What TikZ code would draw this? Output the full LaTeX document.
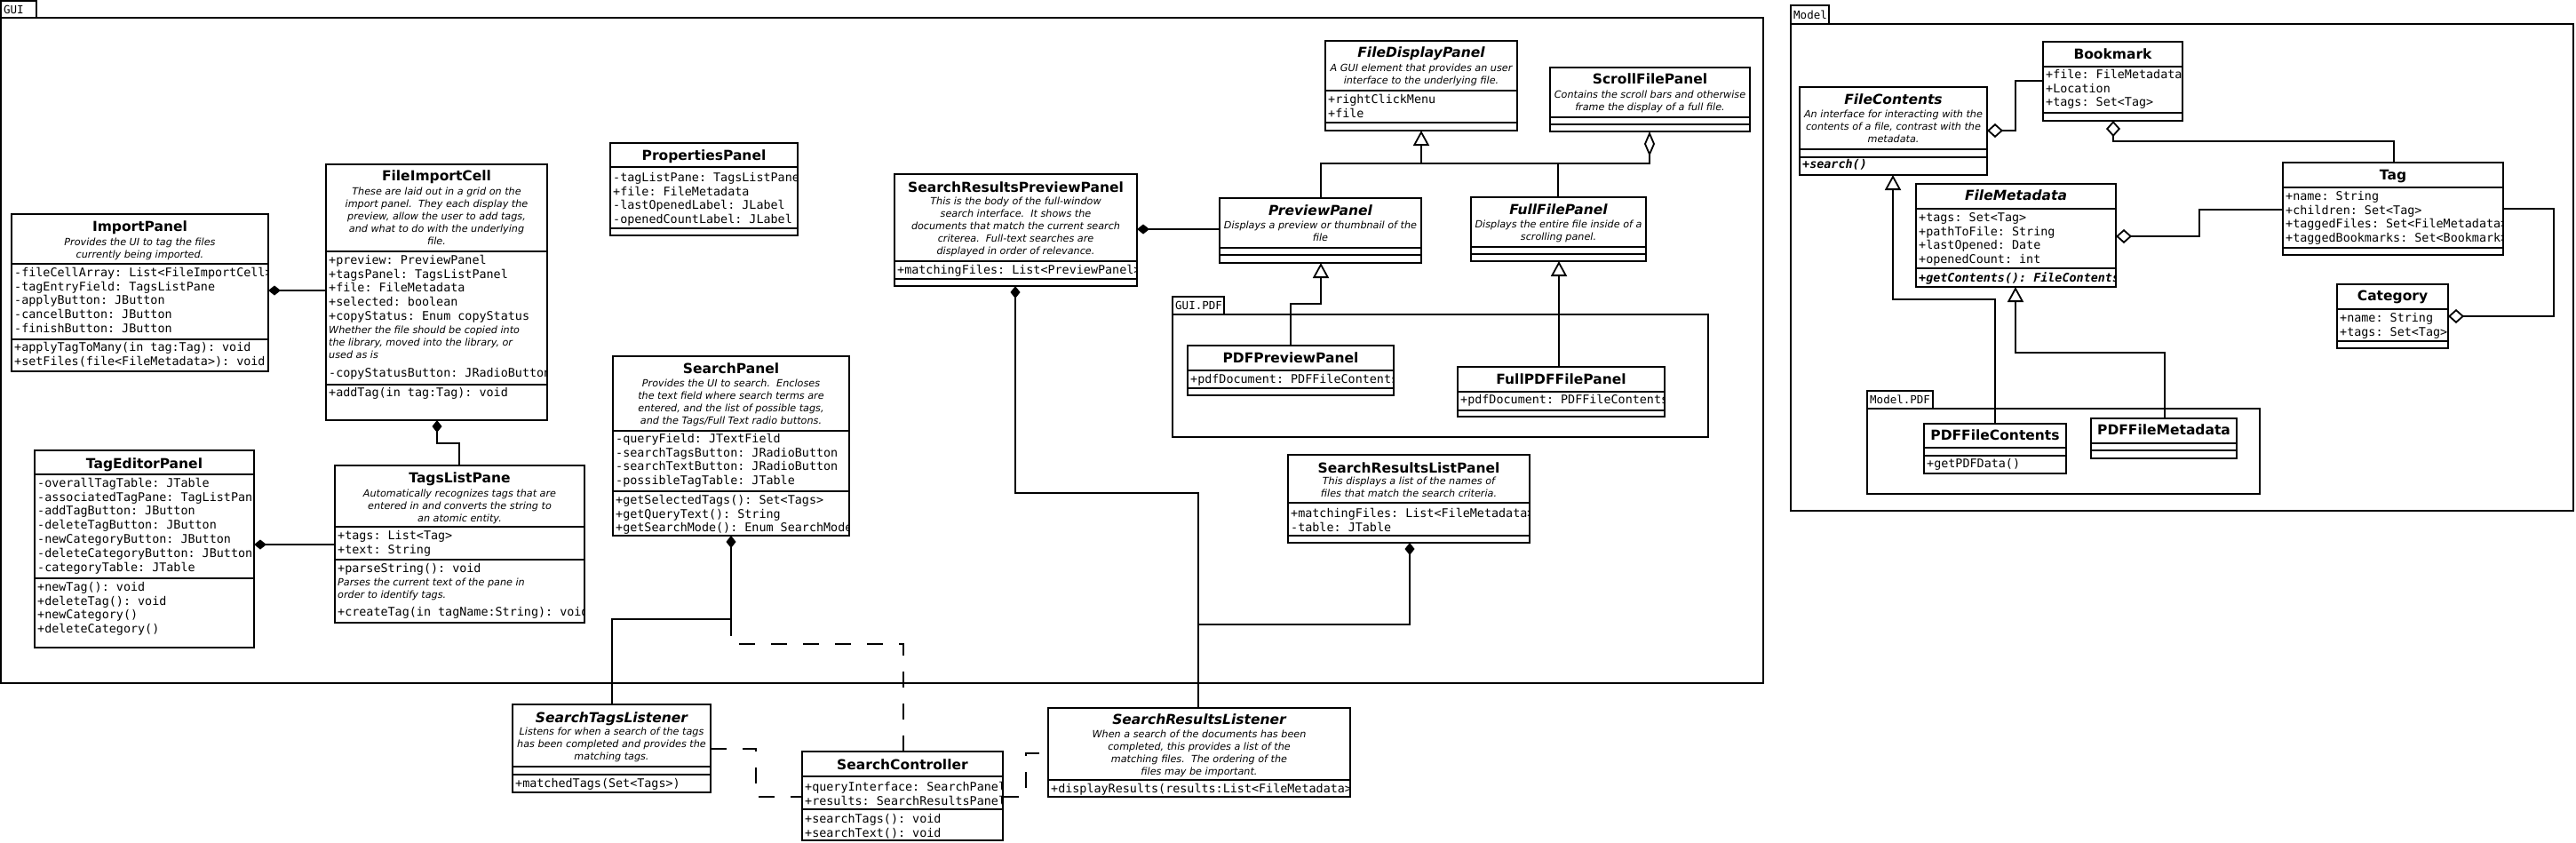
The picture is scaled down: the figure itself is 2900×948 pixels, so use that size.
\documentclass[tikz,border=0pt]{standalone}
\usepackage{fontspec}
\setmainfont{DejaVu Sans}
\setmonofont{DejaVu Sans Mono}
\usetikzlibrary{arrows.meta}
\newcommand\ttlf{\fontsize{15.5}{18}\selectfont\bfseries}
\newcommand\ttlif{\fontsize{15.5}{18}\selectfont\bfseries\itshape}
\newcommand\dscf{\fontsize{11.2}{14}\selectfont\itshape}
\newcommand\attf{\ttfamily\fontsize{13.4}{15.8}\selectfont}
\newcommand\pkgf{\ttfamily\fontsize{12.5}{15}\selectfont}
\tikzset{
  clsbox/.style={draw, line width=1.8pt, fill=white, rectangle, inner sep=0pt, outer sep=0pt, anchor=north west},
  pkg/.style={draw, line width=1.8pt, rectangle, inner sep=0pt, outer sep=0pt, anchor=north west},
  pkgl/.style={font=\pkgf, anchor=west, inner sep=0pt, xshift=3pt},
  divl/.style={line width=1.8pt},
  ttl/.style={font=\ttlf, anchor=base, inner sep=0pt},
  dsc/.style={font=\dscf, align=center, anchor=north, inner sep=0pt},
  dscl/.style={font=\dscf, align=left, anchor=north west, inner sep=0pt, xshift=3pt},
  att/.style={font=\attf, align=left, anchor=north west, inner sep=0pt, xshift=3pt},
  conn/.style={line width=1.8pt},
  comp/.style={conn, {Diamond[length=14pt,width=11pt]}-},
  aggr/.style={conn, {Diamond[length=18pt,width=16pt,fill=white]}-},
  aggrn/.style={conn, {Diamond[length=28pt,width=12pt,fill=white]}-},
  gen/.style={conn, -{Triangle[length=17pt,width=18pt,fill=white]}},
  dep/.style={conn, dash pattern=on 18pt off 18pt},
}
\newcommand\Cls[7]{%
  \node[clsbox, minimum width={#4-#2}, minimum height={#5-#3}] (#1) at (#2,#3) {};
  \draw[divl] (#1.west |- 0,#6) -- (#1.east |- 0,#6);
  \draw[divl] (#1.west |- 0,#7) -- (#1.east |- 0,#7);}
\newcommand\Ttl[3]{\node[ttl] (#1-t) at (#1.north |- 0,{#2+5.5}) {#3};}
\newcommand\TtlI[3]{\node[ttl, font=\ttlif] (#1-t) at (#1.north |- 0,{#2+5.5}) {#3};}
\newcommand\Dsc[3]{\node[dsc] (#1-d) at (#1.north |- 0,{#2-6.3}) {\strut #3};}
\newcommand\Att[4]{\begin{scope}\clip (#1.north west) rectangle (#1.south east);
  \node[att] (#1-#2) at (#1.west |- 0,{#3-7}) {\strut #4};\end{scope}}
\newcommand\Cmt[4]{\node[dscl] (#1-#2) at (#1.west |- 0,{#3-6.3}) {\strut #4};}
\begin{document}
\begin{tikzpicture}[x=1pt,y=-1pt]
\useasboundingbox (0,0) rectangle (2900,948);
\fill[white] (0,0) rectangle (2900,948);

% ---------------- packages
\node[pkg, minimum width=40, minimum height=19] (gui-tab) at (1,1) {};
\node[pkgl] (gui-l) at (gui-tab.west) {GUI};
\node[pkg, minimum width=1984, minimum height=749] (gui) at (1,20) {};

\node[pkg, minimum width=58, minimum height=20] (guipdf-tab) at (1320,334) {};
\node[pkgl] (guipdf-l) at (guipdf-tab.west) {GUI.PDF};
\node[pkg, minimum width=603, minimum height=138] (guipdf) at (1320,354) {};

\node[pkg, minimum width=43, minimum height=21] (model-tab) at (2016,6) {};
\node[pkgl] (model-l) at (model-tab.west) {Model};
\node[pkg, minimum width=881, minimum height=548] (model) at (2016,27) {};

\node[pkg, minimum width=74, minimum height=20] (mpdf-tab) at (2102,440) {};
\node[pkgl] (mpdf-l) at (mpdf-tab.west) {Model.PDF};
\node[pkg, minimum width=442, minimum height=96] (mpdf) at (2102,460) {};

% ---------------- GUI classes
\Cls{ip}{13}{241}{302}{418}{297}{382}
\Ttl{ip}{255}{ImportPanel}
\Dsc{ip}{273}{Provides the UI to tag the files\\currently being imported.}
\Att{ip}{a}{307}{-fileCellArray: List<FileImportCell>\\-tagEntryField: TagsListPane\\-applyButton: JButton\\-cancelButton: JButton\\-finishButton: JButton}
\Att{ip}{m}{391}{+applyTagToMany(in tag:Tag): void\\+setFiles(file<FileMetadata>): void}

\Cls{fic}{367}{185}{616}{473}{283}{433}
\Ttl{fic}{198}{FileImportCell}
\Dsc{fic}{216}{These are laid out in a grid on the\\import panel.\ \ They each display the\\preview, allow the user to add tags,\\and what to do with the underlying\\file.}
\Att{fic}{a}{293}{+preview: PreviewPanel\\+tagsPanel: TagsListPanel\\+file: FileMetadata\\+selected: boolean\\+copyStatus: Enum copyStatus}
\Cmt{fic}{c}{372}{Whether the file should be copied into\\the library, moved into the library, or\\used as is}
\Att{fic}{b}{420}{-copyStatusButton: JRadioButton}
\Att{fic}{m}{442}{+addTag(in tag:Tag): void}

\Cls{pp}{687}{161}{898}{265}{188}{257}
\Ttl{pp}{175}{PropertiesPanel}
\Att{pp}{a}{200}{-tagListPane: TagsListPane\\+file: FileMetadata\\-lastOpenedLabel: JLabel\\-openedCountLabel: JLabel}

\Cls{tep}{39}{507}{286}{729}{534}{651}
\Ttl{tep}{522}{TagEditorPanel}
\Att{tep}{a}{544}{-overallTagTable: JTable\\-associatedTagPane: TagListPane\\-addTagButton: JButton\\-deleteTagButton: JButton\\-newCategoryButton: JButton\\-deleteCategoryButton: JButton\\-categoryTable: JTable}
\Att{tep}{m}{661}{+newTag(): void\\+deleteTag(): void\\+newCategory()\\+deleteCategory()}

\Cls{tlp}{377}{524}{658}{701}{593}{630}
\Ttl{tlp}{538}{TagsListPane}
\Dsc{tlp}{556}{Automatically recognizes tags that are\\entered in and converts the string to\\an atomic entity.}
\Att{tlp}{a}{603}{+tags: List<Tag>\\+text: String}
\Att{tlp}{m}{640}{+parseString(): void}
\Cmt{tlp}{c}{656}{Parses the current text of the pane in\\order to identify tags.}
\Att{tlp}{n}{689}{+createTag(in tagName:String): void}

\Cls{sp}{690}{401}{956}{603}{485}{553}
\Ttl{sp}{415}{SearchPanel}
\Dsc{sp}{432}{Provides the UI to search.\ \ Encloses\\the text field where search terms are\\entered, and the list of possible tags,\\and the Tags/Full Text radio buttons.}
\Att{sp}{a}{494}{-queryField: JTextField\\-searchTagsButton: JRadioButton\\-searchTextButton: JRadioButton\\-possibleTagTable: JTable}
\Att{sp}{m}{563}{+getSelectedTags(): Set<Tags>\\+getQueryText(): String\\+getSearchMode(): Enum SearchMode}

\Cls{srpp}{1007}{196}{1280}{322}{294}{314}
\Ttl{srpp}{211}{SearchResultsPreviewPanel}
\Dsc{srpp}{227}{This is the body of the full-window\\search interface.\ \ It shows the\\documents that match the current search\\criterea.\ \ Full-text searches are\\displayed in order of relevance.}
\Att{srpp}{a}{304}{+matchingFiles: List<PreviewPanel>}

\Cls{fdp}{1492}{46}{1708}{147}{102}{138}
\TtlI{fdp}{59}{FileDisplayPanel}
\Dsc{fdp}{77}{A GUI element that provides an user\\interface to the underlying file.}
\Att{fdp}{a}{112}{+rightClickMenu\\+file}

\Cls{sfp}{1745}{76}{1970}{148}{132}{140}
\Ttl{sfp}{89}{ScrollFilePanel}
\Dsc{sfp}{107}{Contains the scroll bars and otherwise\\frame the display of a full file.}

\Cls{pvp}{1373}{223}{1600}{296}{279}{287}
\TtlI{pvp}{237}{PreviewPanel}
\Dsc{pvp}{254}{Displays a preview or thumbnail of the\\file}

\Cls{ffp}{1656}{222}{1853}{294}{278}{286}
\TtlI{ffp}{236}{FullFilePanel}
\Dsc{ffp}{253}{Displays the entire file inside of a\\scrolling panel.}

\Cls{pdfpp}{1337}{389}{1569}{445}{417}{437}
\Ttl{pdfpp}{403}{PDFPreviewPanel}
\Att{pdfpp}{a}{427}{+pdfDocument: PDFFileContents}

\Cls{fpdf}{1641}{413}{1874}{469}{441}{462}
\Ttl{fpdf}{427}{FullPDFFilePanel}
\Att{fpdf}{a}{450}{+pdfDocument: PDFFileContents}

\Cls{srlp}{1450}{512}{1722}{611}{566}{603}
\Ttl{srlp}{527}{SearchResultsListPanel}
\Dsc{srlp}{542}{This displays a list of the names of\\files that match the search criteria.}
\Att{srlp}{a}{578}{+matchingFiles: List<FileMetadata>\\-table: JTable}

% ---------------- listeners / controller
\Cls{stl}{577}{793}{800}{892}{863}{872}
\TtlI{stl}{808}{SearchTagsListener}
\Dsc{stl}{824}{Listens for when a search of the tags\\has been completed and provides the\\matching tags.}
\Att{stl}{m}{882}{+matchedTags(Set<Tags>)}

\Cls{sc}{903}{846}{1129}{946}{874}{911}
\Ttl{sc}{861}{SearchController}
\Att{sc}{a}{886}{+queryInterface: SearchPanel\\+results: SearchResultsPanel}
\Att{sc}{m}{922}{+searchTags(): void\\+searchText(): void}

\Cls{srl}{1180}{797}{1520}{897}{878}{878}
\TtlI{srl}{810}{SearchResultsListener}
\Dsc{srl}{827}{When a search of the documents has been\\completed, this provides a list of the\\matching files.\ \ The ordering of the\\files may be important.}
\Att{srl}{m}{888}{+displayResults(results:List<FileMetadata>)}

% ---------------- Model classes
\Cls{fc}{2026}{98}{2237}{197}{168}{177}
\TtlI{fc}{112}{FileContents}
\Dsc{fc}{129}{An interface for interacting with the\\contents of a file, contrast with the\\metadata.}
\Att{fc}{m}{185}{\bfseries\itshape +search()}

\Cls{bm}{2300}{47}{2457}{136}{75}{127}
\Ttl{bm}{61}{Bookmark}
\Att{bm}{a}{84}{+file: FileMetadata\\+Location\\+tags: Set<Tag>}

\Cls{fm}{2157}{207}{2382}{323}{235}{302}
\TtlI{fm}{220}{FileMetadata}
\Att{fm}{a}{245}{+tags: Set<Tag>\\+pathToFile: String\\+lastOpened: Date\\+openedCount: int}
\Att{fm}{m}{313}{\bfseries\itshape +getContents(): FileContents}

\Cls{tag}{2570}{183}{2818}{287}{211}{279}
\Ttl{tag}{197}{Tag}
\Att{tag}{a}{221}{+name: String\\+children: Set<Tag>\\+taggedFiles: Set<FileMetadata>\\+taggedBookmarks: Set<Bookmark>}

\Cls{cat}{2631}{320}{2756}{392}{348}{384}
\Ttl{cat}{333}{Category}
\Att{cat}{a}{358}{+name: String\\+tags: Set<Tag>}

\Cls{pfc}{2166}{477}{2326}{533}{504}{513}
\Ttl{pfc}{490}{PDFFileContents}
\Att{pfc}{m}{522}{+getPDFData()}

\Cls{pfm}{2354}{471}{2518}{516}{499}{507}
\Ttl{pfm}{484}{PDFFileMetadata}

% ---------------- connectors
\draw[comp] (ip.east |- 0,327) -- (fic.west |- 0,327);
\draw[comp] (fic.south -| 492,0) -- (492,499) -- (517,499) -- (tlp.north -| 517,0);
\draw[comp] (tep.east |- 0,613) -- (tlp.west |- 0,613);
\draw[comp] (srpp.east |- 0,258) -- (pvp.west |- 0,258);
\draw[gen] (pvp.north -| 1487,0) -- (1487,184) -- (1600,184) -- (fdp.south -| 1600,0);
\draw[conn] (ffp.north -| 1754,0) -- (1754,184) -- (1600,184);
\draw[aggrn] (sfp.south -| 1857,0) -- (1857,184) -- (1754,184);
\draw[gen] (pdfpp.north -| 1453,0) -- (1453,342) -- (1487,342) -- (pvp.south -| 1487,0);
\draw[gen] (fpdf.north -| 1755,0) -- (ffp.south -| 1755,0);

\draw[comp] (sp.south -| 823,0) -- (823,697) -- (689,697) -- (stl.north -| 689,0);
\draw[comp] (srpp.south -| 1143,0) -- (1143,555) -- (1349,555) -- (srl.north -| 1349,0);
\draw[comp] (srlp.south -| 1587,0) -- (1587,703) -- (1349,703);
\draw[dep] (stl.east |- 0,843) -- (851,843) -- (851,897) -- (sc.west |- 0,897);
\draw[dep] (sc.east |- 0,897) -- (1155,897) -- (1155,848) -- (srl.west |- 0,848);
\draw[dep] (sc.north -| 1017,0) -- (1017,725) -- (823,725) -- (823,697);

\draw[aggr] (fc.east |- 0,147) -- (2269,147) -- (2269,91) -- (bm.west |- 0,91);
\draw[aggr] (bm.south -| 2379,0) -- (2379,159) -- (2695,159) -- (tag.north -| 2695,0);
\draw[aggr] (fm.east |- 0,266) -- (2476,266) -- (2476,236) -- (tag.west |- 0,236);
\draw[aggr] (cat.east |- 0,356) -- (2875,356) -- (2875,235) -- (tag.east |- 0,235);
\draw[gen] (pfc.north -| 2246,0) -- (2246,337) -- (2131,337) -- (fc.south -| 2131,0);
\draw[gen] (pfm.north -| 2437,0) -- (2437,397) -- (2269,397) -- (fm.south -| 2269,0);
\end{tikzpicture}
\end{document}
